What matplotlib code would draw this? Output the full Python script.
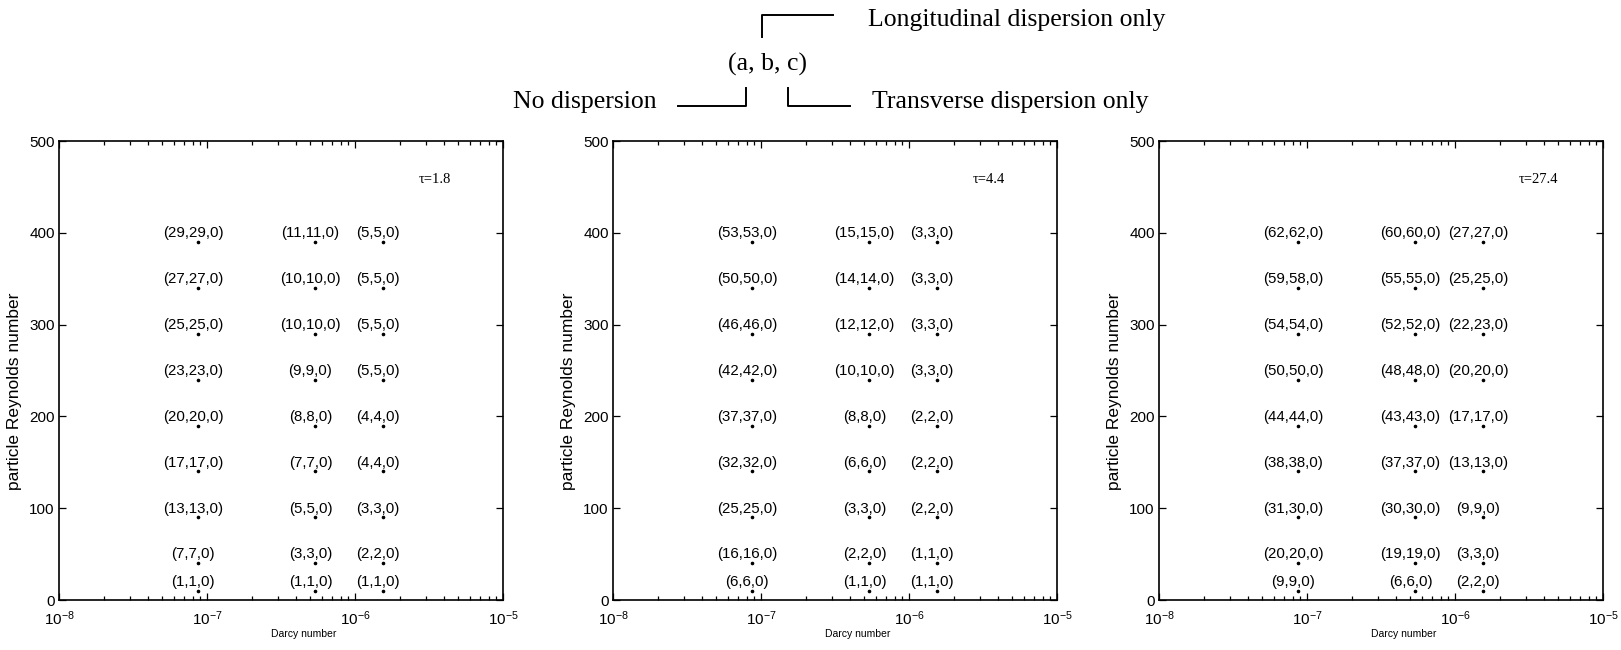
import matplotlib
matplotlib.use("Agg")
import matplotlib.pyplot as plt
from matplotlib.lines import Line2D
from matplotlib.ticker import LogLocator, NullFormatter, FixedLocator

# grid of simulated cases
darcy = [8.7e-8, 5.4e-7, 1.55e-6]
reynolds = [390, 340, 290, 240, 190, 140, 90, 40, 10]
tau_values = [1.8, 4.4, 27.4]

# (a, b, c) counts per Darcy column, ordered like `reynolds`
# tau = 1.8
a_tau1 = [[29, 27, 25, 23, 20, 17, 13, 7, 1],
          [11, 10, 10, 9, 8, 7, 5, 3, 1],
          [5, 5, 5, 5, 4, 4, 3, 2, 1]]
b_tau1 = [[29, 27, 25, 23, 20, 17, 13, 7, 1],
          [11, 10, 10, 9, 8, 7, 5, 3, 1],
          [5, 5, 5, 5, 4, 4, 3, 2, 1]]
c_tau1 = [[0] * 9, [0] * 9, [0] * 9]
# tau = 4.4
a_tau2 = [[53, 50, 46, 42, 37, 32, 25, 16, 6],
          [15, 14, 12, 10, 8, 6, 3, 2, 1],
          [3, 3, 3, 3, 2, 2, 2, 1, 1]]
b_tau2 = [[53, 50, 46, 42, 37, 32, 25, 16, 6],
          [15, 14, 12, 10, 8, 6, 3, 2, 1],
          [3, 3, 3, 3, 2, 2, 2, 1, 1]]
c_tau2 = [[0] * 9, [0] * 9, [0] * 9]
# tau = 27.4
a_tau3 = [[62, 59, 54, 50, 44, 38, 31, 20, 9],
          [60, 55, 52, 48, 43, 37, 30, 19, 6],
          [27, 25, 22, 20, 17, 13, 9, 3, 2]]
b_tau3 = [[62, 58, 54, 50, 44, 38, 30, 20, 9],
          [60, 55, 52, 48, 43, 37, 30, 19, 6],
          [27, 25, 23, 20, 17, 13, 9, 3, 2]]
c_tau3 = [[0] * 9, [0] * 9, [0] * 9]

panels = [(tau_values[0], a_tau1, b_tau1, c_tau1),
          (tau_values[1], a_tau2, b_tau2, c_tau2),
          (tau_values[2], a_tau3, b_tau3, c_tau3)]

x_ticks = [1e-8, 1e-7, 1e-6, 1e-5]
y_ticks = [0, 100, 200, 300, 400, 500]

plt.rcParams["font.family"] = ["Liberation Sans", "DejaVu Sans"]
plt.rcParams["mathtext.fontset"] = "custom"
plt.rcParams["mathtext.rm"] = "Liberation Sans"
plt.rcParams["mathtext.it"] = "Liberation Sans:italic"

W, H = 1621, 650
fig = plt.figure(figsize=(W / 100, H / 100), dpi=100)
fig.patch.set_facecolor("white")

def fx(px):
    return px / W

def fy(py):
    return 1 - py / H

axes_left = [59, 613, 1159]
axes_w = 444
top_px, bot_px = 141, 600

serif = ["Liberation Serif", "DejaVu Serif"]

for (tau, A, B, C), left in zip(panels, axes_left):
    ax = fig.add_axes([fx(left), fy(bot_px), axes_w / W, (bot_px - top_px) / H])
    ax.set_xscale("log")
    ax.set_xlim(1e-8, 1e-5)
    ax.set_ylim(0, 500)
    ax.xaxis.set_major_locator(FixedLocator(x_ticks))
    ax.xaxis.set_minor_locator(LogLocator(base=10, subs=range(2, 10)))
    ax.xaxis.set_minor_formatter(NullFormatter())
    ax.set_yticks(y_ticks)
    ax.tick_params(which="both", direction="in", top=True, right=True,
                   labelsize=11, width=0.9)
    ax.tick_params(axis="x", pad=7)
    ax.tick_params(axis="y", pad=3)
    ax.tick_params(which="major", length=5)
    ax.tick_params(which="minor", length=3)
    for s in ax.spines.values():
        s.set_linewidth(1.2)
    ax.set_xlabel("Darcy number", fontsize=7.5)
    ax.xaxis.set_label_coords(0.55, -0.064)
    ax.set_ylabel("particle Reynolds number", fontsize=12.5)
    ax.yaxis.set_label_coords(-0.083, 0.455)

    for j, xd in enumerate(darcy):
        ax.plot([xd] * len(reynolds), reynolds, linestyle="none", marker="o",
                markersize=1.6, color="black")
        for i, yr in enumerate(reynolds):
            label = "({},{},{})".format(A[j][i], B[j][i], C[j][i])
            ax.annotate(label, (xd, yr), xytext=(-3.5, 3.5),
                        textcoords="offset points", ha="center", va="baseline",
                        fontsize=10.8)
    ax.text(2.7e-6, 458, "\u03c4={}".format(tau), family=serif, fontsize=10.5,
            ha="left", va="center")

# key explaining the (a, b, c) labels
key_font = dict(family=serif, fontsize=18.5, va="center")
fig.text(fx(767), fy(64), "(a, b, c)", ha="center", **key_font)
fig.text(fx(868), fy(20), "Longitudinal dispersion only", ha="left", **key_font)
fig.text(fx(657), fy(102), "No dispersion", ha="right", **key_font)
fig.text(fx(872), fy(102), "Transverse dispersion only", ha="left", **key_font)

bracket_style = dict(color="black", linewidth=1.4, transform=fig.transFigure)
for xs, ys in [([762, 762, 833], [37, 15, 15]),
               ([678, 746, 746], [106, 106, 88]),
               ([788, 788, 850], [88, 106, 106])]:
    fig.add_artist(Line2D([fx(v) for v in xs], [fy(v) for v in ys], **bracket_style))

fig.savefig("out.png", dpi=100)
